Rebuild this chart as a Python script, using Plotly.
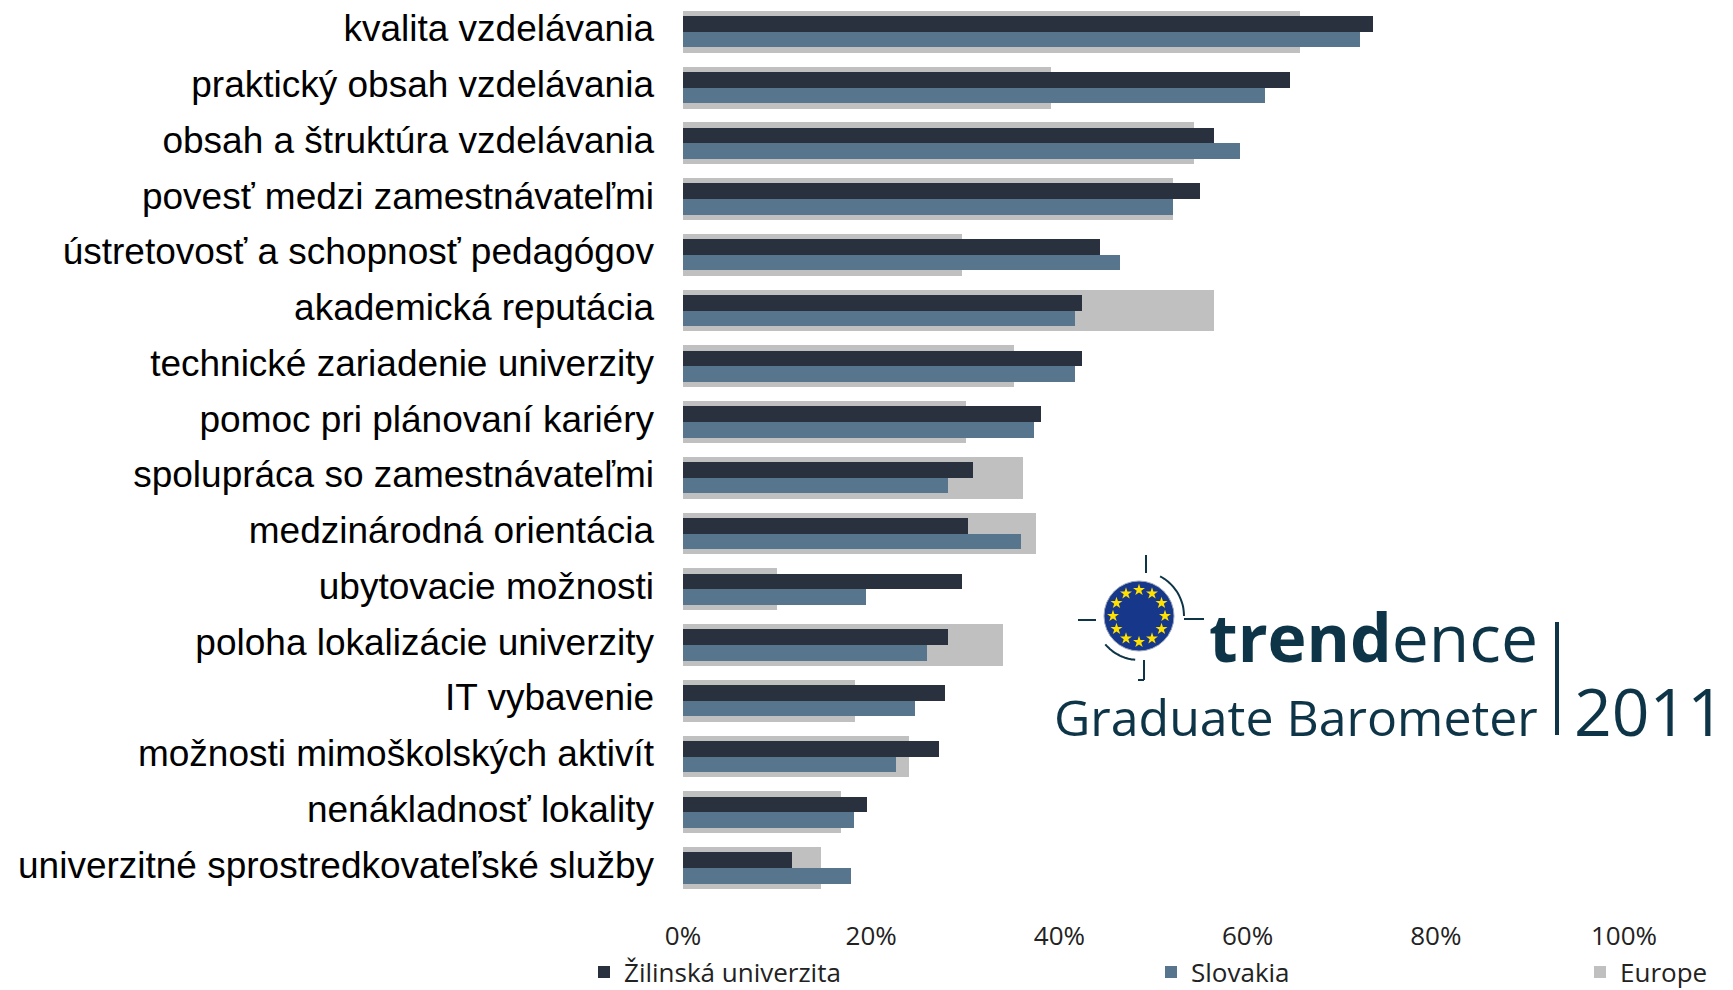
import math
import plotly.graph_objects as go

W, H = 1733, 990

categories = [
    "kvalita vzdelávania",
    "praktický obsah vzdelávania",
    "obsah a štruktúra vzdelávania",
    "povesť medzi zamestnávateľmi",
    "ústretovosť a schopnosť pedagógov",
    "akademická reputácia",
    "technické zariadenie univerzity",
    "pomoc pri plánovaní kariéry",
    "spolupráca so zamestnávateľmi",
    "medzinárodná orientácia",
    "ubytovacie možnosti",
    "poloha lokalizácie univerzity",
    "IT vybavenie",
    "možnosti mimoškolských aktivít",
    "nenákladnosť lokality",
    "univerzitné sprostredkovateľské služby",
]
zilina = [73.3, 64.5, 56.4, 54.9, 44.3, 42.4, 42.4, 38.0, 30.8, 30.3, 29.6, 28.2, 27.8, 27.2, 19.6, 11.6]
slovakia = [71.9, 61.9, 59.2, 52.1, 46.4, 41.7, 41.7, 37.3, 28.2, 35.9, 19.4, 25.9, 24.7, 22.6, 18.2, 17.9]
europe = [65.6, 39.1, 54.3, 52.1, 29.6, 56.4, 35.2, 30.1, 36.1, 37.5, 10.0, 34.0, 18.3, 24.0, 16.8, 14.7]
series_names = ["Žilinská univerzita", "Slovakia", "Europe"]
tick_vals = [0, 20, 40, 60, 80, 100]
tick_text = ["0%", "20%", "40%", "60%", "80%", "100%"]

C_DARK = "#29313f"
C_BLUE = "#57758c"
C_GRAY = "#c0c0c0"
C_LOGO = "#0d3547"

fig = go.Figure()
fig.add_trace(go.Bar(
    y=categories, x=europe, orientation="h", name=series_names[2],
    marker=dict(color=C_GRAY, line=dict(width=0)), width=0.75, offset=-0.375,
    legend="legend3", xaxis="x", yaxis="y"))
fig.add_trace(go.Bar(
    y=categories, x=zilina, orientation="h", name=series_names[0],
    marker=dict(color=C_DARK, line=dict(width=0)), width=0.28, offset=-0.28,
    legend="legend", xaxis="x", yaxis="y"))
fig.add_trace(go.Bar(
    y=categories, x=slovakia, orientation="h", name=series_names[1],
    marker=dict(color=C_BLUE, line=dict(width=0)), width=0.28, offset=0.0,
    legend="legend2", xaxis="x", yaxis="y"))

# ---- logo (decoration) on a hidden pixel-coordinate axis pair ----
cx, cy, r = 1139, 616, 35
star_x = [cx + 26 * math.sin(2 * math.pi * k / 12) for k in range(12)]
star_y = [cy - 26 * math.cos(2 * math.pi * k / 12) for k in range(12)]
fig.add_trace(go.Scatter(
    x=star_x, y=star_y, mode="markers", xaxis="x2", yaxis="y2",
    marker=dict(symbol="star", size=9, color="#ffe000", line=dict(width=0)),
    showlegend=False, hoverinfo="skip"))

shapes = []
shapes.append(dict(type="circle", xref="x2", yref="y2", x0=cx - r, x1=cx + r,
                   y0=cy - r, y1=cy + r, fillcolor="#17378a",
                   line=dict(color="#9aa6b8", width=1), layer="below"))

def arc(a0, a1, rad, n=20):
    pts = []
    for i in range(n + 1):
        a = math.radians(a0 + (a1 - a0) * i / n)
        pts.append((cx + rad * math.cos(a), cy + rad * math.sin(a)))
    return "M" + " L".join(f"{x:.1f},{y:.1f}" for x, y in pts)

line_style = dict(color=C_LOGO, width=2)
shapes.append(dict(type="path", xref="x2", yref="y2", path=arc(-62, 0, 45), line=line_style))
shapes.append(dict(type="path", xref="x2", yref="y2", path=arc(95, 140, 44), line=line_style))
for (x0, y0, x1, y1) in [(1146, 555, 1146, 573), (1144, 660, 1144, 680), (1138, 680, 1144, 680),
                         (1078, 620, 1096, 620), (1184, 619, 1204, 619)]:
    shapes.append(dict(type="line", xref="x2", yref="y2", x0=x0, y0=y0, x1=x1, y1=y1, line=line_style))
shapes.append(dict(type="line", xref="x2", yref="y2", x0=1557, y0=622, x1=1557, y1=735,
                   line=dict(color=C_LOGO, width=4)))

annotations = [
    dict(xref="x2", yref="y2", x=1207, y=662 - 0.388 * 66, xanchor="left", yanchor="middle",
         text="<b>trend</b>ence", showarrow=False,
         font=dict(family="Open Sans", size=66, color=C_LOGO)),
    dict(xref="x2", yref="y2", x=1540, y=736 - 0.388 * 50, xanchor="right", yanchor="middle",
         text="Graduate Barometer", showarrow=False,
         font=dict(family="Open Sans", size=50, color=C_LOGO)),
    dict(xref="x2", yref="y2", x=1573, y=736 - 0.388 * 66, xanchor="left", yanchor="middle",
         text="2011", showarrow=False, borderpad=0,
         font=dict(family="Open Sans", size=66, color=C_LOGO)),
]

x_left, x_right = 683, 1624
y_top, y_bot = 3.6, 895.5

leg_common = dict(orientation="h", xanchor="left", yanchor="middle", y=1 - 972 / H,
                  bgcolor="rgba(0,0,0,0)", borderwidth=0,
                  font=dict(family="Open Sans", size=26, color="#222222"))

fig.update_layout(
    width=W, height=H, template="none",
    margin=dict(l=0, r=0, t=0, b=0, pad=0, autoexpand=False),
    paper_bgcolor="white", plot_bgcolor="rgba(0,0,0,0)",
    barmode="overlay", bargap=0,
    showlegend=True,
    legend=dict(x=(604 - 20) / W, **leg_common),
    legend2=dict(x=(1171 - 20) / W, **leg_common),
    legend3=dict(x=(1600 - 20) / W, **leg_common),
    xaxis=dict(domain=[x_left / W, x_right / W], range=[0, 100], tickvals=tick_vals, ticktext=tick_text,
               showgrid=False, zeroline=False, showline=False, ticks="", automargin=False,
               ticklabelstandoff=22, anchor="y",
               tickfont=dict(family="Open Sans", size=26, color="#222222")),
    yaxis=dict(domain=[1 - y_bot / H, 1 - y_top / H], type="category", range=[15.5, -0.5],
               showgrid=False, zeroline=False, showline=False, ticks="", automargin=False,
               ticklabelstandoff=28, ticklabelshift=3, anchor="x",
               tickfont=dict(family="Liberation Sans, Arial", size=37, color="#000000")),
    xaxis2=dict(domain=[0, 1], range=[0, W], visible=False, anchor="y2", fixedrange=True),
    yaxis2=dict(domain=[0, 1], range=[H, 0], visible=False, anchor="x2", fixedrange=True),
    shapes=shapes,
    annotations=annotations,
)

fig.write_html("out.html")
